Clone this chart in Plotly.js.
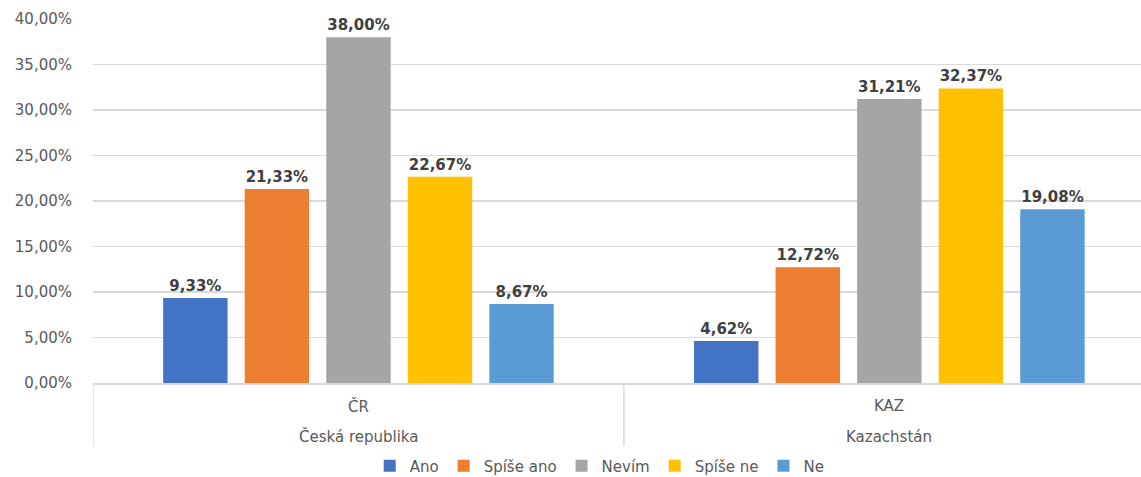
<!DOCTYPE html>
<html><head><meta charset="utf-8">
<script src="https://cdn.plot.ly/plotly-3.0.1.min.js"></script>
<style>html,body{margin:0;padding:0;background:#fff}#c{width:1141px;height:477px}</style>
</head><body><div id="c"></div>
<script>
const outerCats = ["Česká republika", "Kazachstán"];
const innerCats = ["ČR", "KAZ"];
const seriesNames = ["Ano", "Spíše ano", "Nevím", "Spíše ne", "Ne"];
const ano = [9.33, 4.62];
const spiseAno = [21.33, 12.72];
const nevim = [38.00, 31.21];
const spiseNe = [22.67, 32.37];
const ne = [8.67, 19.08];
const colors = ["#4472C4", "#ED7D31", "#A5A5A5", "#FFC000", "#5B9BD5"];
const seriesValues = [ano, spiseAno, nevim, spiseNe, ne];

const font = "DejaVu Sans, sans-serif";
const W = 1141, H = 477;
const plotTop = 19, plotBottom = 383, plotH = plotBottom - plotTop;
const py = (pix) => (plotBottom - pix) / plotH;

const traces = seriesValues.map((vals, i) => ({
  type: "bar",
  name: seriesNames[i],
  x: innerCats,
  y: vals,
  marker: {color: colors[i]},
  texttemplate: "%{y:.2f}%",
  textposition: "outside",
  cliponaxis: false,
  textfont: {family: font, size: 15, color: "#404040", weight: 600},
  hoverinfo: "none"
}));

const annotations = [];
innerCats.forEach((c, i) => {
  annotations.push({xref: "x", yref: "paper", x: c, y: py(406), yanchor: "middle",
    text: innerCats[i], showarrow: false, font: {family: font, size: 15, color: "#595959"}});
  annotations.push({xref: "x", yref: "paper", x: c, y: py(437), yanchor: "middle",
    text: outerCats[i], showarrow: false, font: {family: font, size: 15, color: "#595959"}});
});
const shapes = [-0.5, 0.5].map(xv => ({
  type: "line", xref: "x", yref: "paper", x0: xv, x1: xv, y0: 0, y1: py(446),
  line: {color: "#d9d9d9", width: 1.5}
}));

const layout = {
  width: W, height: H,
  margin: {l: 93, r: 0, t: plotTop, b: H - plotBottom},
  paper_bgcolor: "#fff", plot_bgcolor: "#fff",
  separators: ",.",
  barmode: "group",
  bargap: 0.232,
  bargroupgap: 0.21,
  font: {family: font, size: 15, color: "#595959"},
  xaxis: {
    type: "category", automargin: false,
    range: [-0.5, 1.474],
    showline: true, linecolor: "#d9d9d9", linewidth: 1.5,
    showticklabels: false,
    ticks: "", showgrid: false, zeroline: false
  },
  yaxis: {
    range: [0, 40], dtick: 5, automargin: false,
    tickformat: ".2f", ticksuffix: "%",
    showgrid: true, gridcolor: "#d9d9d9", gridwidth: 1.5,
    zeroline: false, showline: false,
    tickfont: {family: font, size: 15, color: "#595959"},
    ticklabelstandoff: 20
  },
  annotations: annotations,
  shapes: shapes,
  showlegend: true,
  legend: {
    orientation: "h", x: 0.5256, xanchor: "center", xref: "container",
    y: 1 - 466 / H, yanchor: "middle", yref: "container",
    font: {family: font, size: 15, color: "#595959"},
    itemwidth: 30, traceorder: "normal"
  }
};
Plotly.newPlot("c", traces, layout, {displayModeBar: false, staticPlot: true});
</script></body></html>
